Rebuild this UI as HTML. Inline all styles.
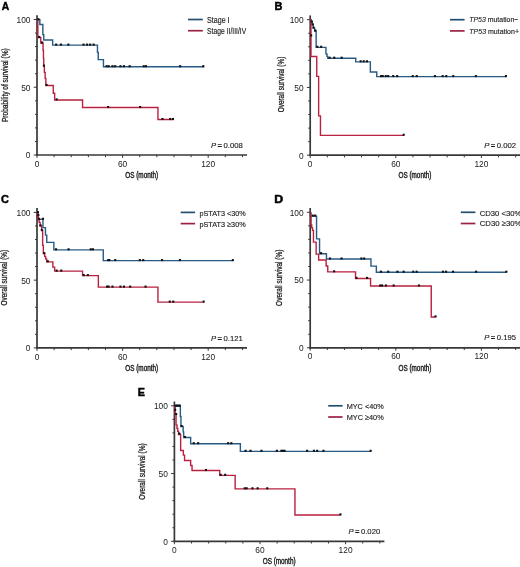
<!DOCTYPE html>
<html><head><meta charset="utf-8"><style>
html,body{margin:0;padding:0;background:#fff;}
svg{display:block;will-change:transform;}
text{font-family:"Liberation Sans",sans-serif;}
</style></head><body>
<svg width="520" height="567" viewBox="0 0 520 567">
<rect width="520" height="567" fill="#fff"/>
<line x1="37.0" y1="15.20" x2="37.0" y2="155.80" stroke="#383838" stroke-width="1.7"/>
<line x1="36.15" y1="155.0" x2="247.00" y2="155.0" stroke="#383838" stroke-width="1.7"/>
<line x1="33.70" y1="155.00" x2="37.0" y2="155.00" stroke="#383838" stroke-width="1"/>
<line x1="35.00" y1="141.45" x2="37.0" y2="141.45" stroke="#383838" stroke-width="1"/>
<line x1="35.00" y1="127.90" x2="37.0" y2="127.90" stroke="#383838" stroke-width="1"/>
<line x1="35.00" y1="114.35" x2="37.0" y2="114.35" stroke="#383838" stroke-width="1"/>
<line x1="35.00" y1="100.80" x2="37.0" y2="100.80" stroke="#383838" stroke-width="1"/>
<line x1="33.70" y1="87.25" x2="37.0" y2="87.25" stroke="#383838" stroke-width="1"/>
<line x1="35.00" y1="73.70" x2="37.0" y2="73.70" stroke="#383838" stroke-width="1"/>
<line x1="35.00" y1="60.15" x2="37.0" y2="60.15" stroke="#383838" stroke-width="1"/>
<line x1="35.00" y1="46.60" x2="37.0" y2="46.60" stroke="#383838" stroke-width="1"/>
<line x1="35.00" y1="33.05" x2="37.0" y2="33.05" stroke="#383838" stroke-width="1"/>
<line x1="33.70" y1="19.50" x2="37.0" y2="19.50" stroke="#383838" stroke-width="1"/>
<line x1="37.00" y1="155.0" x2="37.00" y2="157.90" stroke="#383838" stroke-width="1"/>
<line x1="54.12" y1="155.0" x2="54.12" y2="157.20" stroke="#383838" stroke-width="1"/>
<line x1="71.24" y1="155.0" x2="71.24" y2="157.20" stroke="#383838" stroke-width="1"/>
<line x1="88.36" y1="155.0" x2="88.36" y2="157.20" stroke="#383838" stroke-width="1"/>
<line x1="105.48" y1="155.0" x2="105.48" y2="157.20" stroke="#383838" stroke-width="1"/>
<line x1="122.60" y1="155.0" x2="122.60" y2="157.90" stroke="#383838" stroke-width="1"/>
<line x1="139.72" y1="155.0" x2="139.72" y2="157.20" stroke="#383838" stroke-width="1"/>
<line x1="156.84" y1="155.0" x2="156.84" y2="157.20" stroke="#383838" stroke-width="1"/>
<line x1="173.96" y1="155.0" x2="173.96" y2="157.20" stroke="#383838" stroke-width="1"/>
<line x1="191.08" y1="155.0" x2="191.08" y2="157.20" stroke="#383838" stroke-width="1"/>
<line x1="208.20" y1="155.0" x2="208.20" y2="157.90" stroke="#383838" stroke-width="1"/>
<line x1="225.32" y1="155.0" x2="225.32" y2="157.20" stroke="#383838" stroke-width="1"/>
<line x1="242.44" y1="155.0" x2="242.44" y2="157.20" stroke="#383838" stroke-width="1"/>
<text x="30.50" y="158.40" text-anchor="end" font-size="8.4" fill="#1a1a1a">0</text>
<text x="30.50" y="90.65" text-anchor="end" font-size="8.4" fill="#1a1a1a">50</text>
<text x="30.50" y="22.90" text-anchor="end" font-size="8.4" fill="#1a1a1a">100</text>
<text x="37.00" y="166.60" text-anchor="middle" font-size="8.4" fill="#1a1a1a">0</text>
<text x="122.60" y="166.60" text-anchor="middle" font-size="8.4" fill="#1a1a1a">60</text>
<text x="208.20" y="166.60" text-anchor="middle" font-size="8.4" fill="#1a1a1a">120</text>
<line x1="188.0" y1="19.50" x2="202.8" y2="19.50" stroke="#234f70" stroke-width="1.7"/>
<line x1="188.0" y1="30.70" x2="202.8" y2="30.70" stroke="#9c2243" stroke-width="1.7"/>
<g transform="translate(0.15,0.35)">
<path d="M37,19.4 H39.7 V24.2 H42.7 V34.3 H43.6 V39.6 H52.5 V44.8 H97.3 V52 H98.1 V59.3 H103.3 V66.4 H204" fill="none" stroke="#275a86" stroke-width="1.4"/>
<path d="M37,19.4 H37.7 V37.2 H40.6 V42.7 H42.9 V50 H43.3 V58 H43.6 V66 H44.2 V72 H45 V78 H45.7 V85.1 H53.1 V92.9 H54.5 V99.6 H82.4 V107.2 H157.8 V119.2 H173.5" fill="none" stroke="#ba2040" stroke-width="1.4"/>
<rect x="37.25" y="17.80" width="2.1" height="2.1" fill="#111"/><rect x="54.95" y="43.20" width="2.1" height="2.1" fill="#111"/><rect x="59.75" y="43.20" width="2.1" height="2.1" fill="#111"/><rect x="67.15" y="43.20" width="2.1" height="2.1" fill="#111"/><rect x="82.35" y="43.20" width="2.1" height="2.1" fill="#111"/><rect x="85.85" y="43.20" width="2.1" height="2.1" fill="#111"/><rect x="88.95" y="43.20" width="2.1" height="2.1" fill="#111"/><rect x="92.45" y="43.20" width="2.1" height="2.1" fill="#111"/><rect x="105.45" y="64.80" width="2.1" height="2.1" fill="#111"/><rect x="107.45" y="64.80" width="2.1" height="2.1" fill="#111"/><rect x="111.25" y="64.80" width="2.1" height="2.1" fill="#111"/><rect x="113.95" y="64.80" width="2.1" height="2.1" fill="#111"/><rect x="119.25" y="64.80" width="2.1" height="2.1" fill="#111"/><rect x="122.75" y="64.80" width="2.1" height="2.1" fill="#111"/><rect x="128.45" y="64.80" width="2.1" height="2.1" fill="#111"/><rect x="142.55" y="64.80" width="2.1" height="2.1" fill="#111"/><rect x="144.75" y="64.80" width="2.1" height="2.1" fill="#111"/><rect x="178.95" y="64.80" width="2.1" height="2.1" fill="#111"/><rect x="202.05" y="64.80" width="2.1" height="2.1" fill="#111"/>
<rect x="37.95" y="35.60" width="2.1" height="2.1" fill="#111"/><rect x="40.85" y="41.10" width="2.1" height="2.1" fill="#111"/><rect x="42.75" y="64.20" width="2.1" height="2.1" fill="#111"/><rect x="45.35" y="83.50" width="2.1" height="2.1" fill="#111"/><rect x="55.45" y="98.00" width="2.1" height="2.1" fill="#111"/><rect x="106.95" y="105.60" width="2.1" height="2.1" fill="#111"/><rect x="138.95" y="105.60" width="2.1" height="2.1" fill="#111"/><rect x="161.25" y="117.60" width="2.1" height="2.1" fill="#111"/><rect x="168.95" y="117.60" width="2.1" height="2.1" fill="#111"/><rect x="171.75" y="117.60" width="2.1" height="2.1" fill="#111"/>
</g>
<line x1="310.2" y1="15.40" x2="310.2" y2="156.00" stroke="#383838" stroke-width="1.7"/>
<line x1="309.35" y1="155.2" x2="520.20" y2="155.2" stroke="#383838" stroke-width="1.7"/>
<line x1="306.90" y1="155.20" x2="310.2" y2="155.20" stroke="#383838" stroke-width="1"/>
<line x1="308.20" y1="141.65" x2="310.2" y2="141.65" stroke="#383838" stroke-width="1"/>
<line x1="308.20" y1="128.10" x2="310.2" y2="128.10" stroke="#383838" stroke-width="1"/>
<line x1="308.20" y1="114.55" x2="310.2" y2="114.55" stroke="#383838" stroke-width="1"/>
<line x1="308.20" y1="101.00" x2="310.2" y2="101.00" stroke="#383838" stroke-width="1"/>
<line x1="306.90" y1="87.45" x2="310.2" y2="87.45" stroke="#383838" stroke-width="1"/>
<line x1="308.20" y1="73.90" x2="310.2" y2="73.90" stroke="#383838" stroke-width="1"/>
<line x1="308.20" y1="60.35" x2="310.2" y2="60.35" stroke="#383838" stroke-width="1"/>
<line x1="308.20" y1="46.80" x2="310.2" y2="46.80" stroke="#383838" stroke-width="1"/>
<line x1="308.20" y1="33.25" x2="310.2" y2="33.25" stroke="#383838" stroke-width="1"/>
<line x1="306.90" y1="19.70" x2="310.2" y2="19.70" stroke="#383838" stroke-width="1"/>
<line x1="310.20" y1="155.2" x2="310.20" y2="158.10" stroke="#383838" stroke-width="1"/>
<line x1="327.32" y1="155.2" x2="327.32" y2="157.40" stroke="#383838" stroke-width="1"/>
<line x1="344.44" y1="155.2" x2="344.44" y2="157.40" stroke="#383838" stroke-width="1"/>
<line x1="361.56" y1="155.2" x2="361.56" y2="157.40" stroke="#383838" stroke-width="1"/>
<line x1="378.68" y1="155.2" x2="378.68" y2="157.40" stroke="#383838" stroke-width="1"/>
<line x1="395.80" y1="155.2" x2="395.80" y2="158.10" stroke="#383838" stroke-width="1"/>
<line x1="412.92" y1="155.2" x2="412.92" y2="157.40" stroke="#383838" stroke-width="1"/>
<line x1="430.04" y1="155.2" x2="430.04" y2="157.40" stroke="#383838" stroke-width="1"/>
<line x1="447.16" y1="155.2" x2="447.16" y2="157.40" stroke="#383838" stroke-width="1"/>
<line x1="464.28" y1="155.2" x2="464.28" y2="157.40" stroke="#383838" stroke-width="1"/>
<line x1="481.40" y1="155.2" x2="481.40" y2="158.10" stroke="#383838" stroke-width="1"/>
<line x1="498.52" y1="155.2" x2="498.52" y2="157.40" stroke="#383838" stroke-width="1"/>
<line x1="515.64" y1="155.2" x2="515.64" y2="157.40" stroke="#383838" stroke-width="1"/>
<text x="303.70" y="158.60" text-anchor="end" font-size="8.4" fill="#1a1a1a">0</text>
<text x="303.70" y="90.85" text-anchor="end" font-size="8.4" fill="#1a1a1a">50</text>
<text x="303.70" y="23.10" text-anchor="end" font-size="8.4" fill="#1a1a1a">100</text>
<text x="310.20" y="166.80" text-anchor="middle" font-size="8.4" fill="#1a1a1a">0</text>
<text x="395.80" y="166.80" text-anchor="middle" font-size="8.4" fill="#1a1a1a">60</text>
<text x="481.40" y="166.80" text-anchor="middle" font-size="8.4" fill="#1a1a1a">120</text>
<line x1="450.0" y1="19.70" x2="464.6" y2="19.70" stroke="#234f70" stroke-width="1.7"/>
<line x1="450.0" y1="30.90" x2="464.6" y2="30.90" stroke="#9c2243" stroke-width="1.7"/>
<g transform="translate(0.15,0.35)">
<path d="M310.2,19.3 H311 V21 H312 V24 H313 V27.8 H314.5 V30.7 H316.0 V47 H325.8 V53.5 H326.8 V56 H327.6 V57.9 H355.6 V61.5 H370.2 V71.6 H376.6 V76.3 H506" fill="none" stroke="#275a86" stroke-width="1.4"/>
<path d="M310.2,19.3 H310.8 V56.2 H316.6 V76.0 H318.5 V115.5 H320.3 V135.0 H403.7" fill="none" stroke="#ba2040" stroke-width="1.4"/>
<rect x="310.55" y="20.20" width="2.1" height="2.1" fill="#111"/><rect x="311.55" y="23.00" width="2.1" height="2.1" fill="#111"/><rect x="312.45" y="26.20" width="2.1" height="2.1" fill="#111"/><rect x="314.15" y="29.10" width="2.1" height="2.1" fill="#111"/><rect x="316.15" y="45.40" width="2.1" height="2.1" fill="#111"/><rect x="319.95" y="45.40" width="2.1" height="2.1" fill="#111"/><rect x="328.35" y="56.30" width="2.1" height="2.1" fill="#111"/><rect x="333.05" y="56.30" width="2.1" height="2.1" fill="#111"/><rect x="340.45" y="56.30" width="2.1" height="2.1" fill="#111"/><rect x="359.45" y="59.90" width="2.1" height="2.1" fill="#111"/><rect x="362.55" y="59.90" width="2.1" height="2.1" fill="#111"/><rect x="365.75" y="59.90" width="2.1" height="2.1" fill="#111"/><rect x="379.85" y="74.70" width="2.1" height="2.1" fill="#111"/><rect x="381.55" y="74.70" width="2.1" height="2.1" fill="#111"/><rect x="384.55" y="74.70" width="2.1" height="2.1" fill="#111"/><rect x="386.95" y="74.70" width="2.1" height="2.1" fill="#111"/><rect x="392.05" y="74.70" width="2.1" height="2.1" fill="#111"/><rect x="395.95" y="74.70" width="2.1" height="2.1" fill="#111"/><rect x="411.55" y="74.70" width="2.1" height="2.1" fill="#111"/><rect x="415.55" y="74.70" width="2.1" height="2.1" fill="#111"/><rect x="433.75" y="74.70" width="2.1" height="2.1" fill="#111"/><rect x="441.45" y="74.70" width="2.1" height="2.1" fill="#111"/><rect x="445.05" y="74.70" width="2.1" height="2.1" fill="#111"/><rect x="452.05" y="74.70" width="2.1" height="2.1" fill="#111"/><rect x="474.65" y="74.70" width="2.1" height="2.1" fill="#111"/><rect x="504.75" y="74.70" width="2.1" height="2.1" fill="#111"/>
<rect x="309.95" y="34.00" width="2.1" height="2.1" fill="#111"/><rect x="402.45" y="133.40" width="2.1" height="2.1" fill="#111"/>
</g>
<line x1="37.0" y1="208.10" x2="37.0" y2="348.70" stroke="#383838" stroke-width="1.7"/>
<line x1="36.15" y1="347.9" x2="247.00" y2="347.9" stroke="#383838" stroke-width="1.7"/>
<line x1="33.70" y1="347.90" x2="37.0" y2="347.90" stroke="#383838" stroke-width="1"/>
<line x1="35.00" y1="334.35" x2="37.0" y2="334.35" stroke="#383838" stroke-width="1"/>
<line x1="35.00" y1="320.80" x2="37.0" y2="320.80" stroke="#383838" stroke-width="1"/>
<line x1="35.00" y1="307.25" x2="37.0" y2="307.25" stroke="#383838" stroke-width="1"/>
<line x1="35.00" y1="293.70" x2="37.0" y2="293.70" stroke="#383838" stroke-width="1"/>
<line x1="33.70" y1="280.15" x2="37.0" y2="280.15" stroke="#383838" stroke-width="1"/>
<line x1="35.00" y1="266.60" x2="37.0" y2="266.60" stroke="#383838" stroke-width="1"/>
<line x1="35.00" y1="253.05" x2="37.0" y2="253.05" stroke="#383838" stroke-width="1"/>
<line x1="35.00" y1="239.50" x2="37.0" y2="239.50" stroke="#383838" stroke-width="1"/>
<line x1="35.00" y1="225.95" x2="37.0" y2="225.95" stroke="#383838" stroke-width="1"/>
<line x1="33.70" y1="212.40" x2="37.0" y2="212.40" stroke="#383838" stroke-width="1"/>
<line x1="37.00" y1="347.9" x2="37.00" y2="350.80" stroke="#383838" stroke-width="1"/>
<line x1="54.12" y1="347.9" x2="54.12" y2="350.10" stroke="#383838" stroke-width="1"/>
<line x1="71.24" y1="347.9" x2="71.24" y2="350.10" stroke="#383838" stroke-width="1"/>
<line x1="88.36" y1="347.9" x2="88.36" y2="350.10" stroke="#383838" stroke-width="1"/>
<line x1="105.48" y1="347.9" x2="105.48" y2="350.10" stroke="#383838" stroke-width="1"/>
<line x1="122.60" y1="347.9" x2="122.60" y2="350.80" stroke="#383838" stroke-width="1"/>
<line x1="139.72" y1="347.9" x2="139.72" y2="350.10" stroke="#383838" stroke-width="1"/>
<line x1="156.84" y1="347.9" x2="156.84" y2="350.10" stroke="#383838" stroke-width="1"/>
<line x1="173.96" y1="347.9" x2="173.96" y2="350.10" stroke="#383838" stroke-width="1"/>
<line x1="191.08" y1="347.9" x2="191.08" y2="350.10" stroke="#383838" stroke-width="1"/>
<line x1="208.20" y1="347.9" x2="208.20" y2="350.80" stroke="#383838" stroke-width="1"/>
<line x1="225.32" y1="347.9" x2="225.32" y2="350.10" stroke="#383838" stroke-width="1"/>
<line x1="242.44" y1="347.9" x2="242.44" y2="350.10" stroke="#383838" stroke-width="1"/>
<text x="30.50" y="351.30" text-anchor="end" font-size="8.4" fill="#1a1a1a">0</text>
<text x="30.50" y="283.55" text-anchor="end" font-size="8.4" fill="#1a1a1a">50</text>
<text x="30.50" y="215.80" text-anchor="end" font-size="8.4" fill="#1a1a1a">100</text>
<text x="37.00" y="359.50" text-anchor="middle" font-size="8.4" fill="#1a1a1a">0</text>
<text x="122.60" y="359.50" text-anchor="middle" font-size="8.4" fill="#1a1a1a">60</text>
<text x="208.20" y="359.50" text-anchor="middle" font-size="8.4" fill="#1a1a1a">120</text>
<line x1="180.7" y1="212.40" x2="195.1" y2="212.40" stroke="#234f70" stroke-width="1.7"/>
<line x1="180.7" y1="223.60" x2="195.1" y2="223.60" stroke="#9c2243" stroke-width="1.7"/>
<g transform="translate(0.15,0.35)">
<path d="M37,212.4 H37.8 V219 H42.8 V227.3 H45.3 V234.8 H46.6 V242 H53.7 V249.5 H103.1 V260.3 H233" fill="none" stroke="#275a86" stroke-width="1.4"/>
<path d="M37,212.4 V216 H38 V219.4 H39 V222 H40 V225.7 H41.5 V230.2 H42.5 V245 H43.2 V253.3 H44.5 V256 H45.5 V258.5 H46.5 V261.5 H52.7 V266.8 H54.5 V270.8 H82.4 V275.3 H98.2 V286.8 H157.8 V301.8 H203.5" fill="none" stroke="#ba2040" stroke-width="1.4"/>
<rect x="36.75" y="210.80" width="2.1" height="2.1" fill="#111"/><rect x="37.95" y="217.40" width="2.1" height="2.1" fill="#111"/><rect x="41.75" y="217.40" width="2.1" height="2.1" fill="#111"/><rect x="54.85" y="247.90" width="2.1" height="2.1" fill="#111"/><rect x="67.35" y="247.90" width="2.1" height="2.1" fill="#111"/><rect x="89.55" y="247.90" width="2.1" height="2.1" fill="#111"/><rect x="91.75" y="247.90" width="2.1" height="2.1" fill="#111"/><rect x="106.95" y="258.70" width="2.1" height="2.1" fill="#111"/><rect x="108.15" y="258.70" width="2.1" height="2.1" fill="#111"/><rect x="114.05" y="258.70" width="2.1" height="2.1" fill="#111"/><rect x="138.65" y="258.70" width="2.1" height="2.1" fill="#111"/><rect x="142.05" y="258.70" width="2.1" height="2.1" fill="#111"/><rect x="160.85" y="258.70" width="2.1" height="2.1" fill="#111"/><rect x="178.75" y="258.70" width="2.1" height="2.1" fill="#111"/><rect x="231.65" y="258.70" width="2.1" height="2.1" fill="#111"/>
<rect x="37.15" y="213.70" width="2.1" height="2.1" fill="#111"/><rect x="39.25" y="223.90" width="2.1" height="2.1" fill="#111"/><rect x="40.65" y="228.60" width="2.1" height="2.1" fill="#111"/><rect x="43.05" y="251.70" width="2.1" height="2.1" fill="#111"/><rect x="46.55" y="259.90" width="2.1" height="2.1" fill="#111"/><rect x="55.45" y="269.20" width="2.1" height="2.1" fill="#111"/><rect x="60.05" y="269.20" width="2.1" height="2.1" fill="#111"/><rect x="82.55" y="273.70" width="2.1" height="2.1" fill="#111"/><rect x="86.65" y="273.70" width="2.1" height="2.1" fill="#111"/><rect x="105.85" y="285.20" width="2.1" height="2.1" fill="#111"/><rect x="107.45" y="285.20" width="2.1" height="2.1" fill="#111"/><rect x="111.25" y="285.20" width="2.1" height="2.1" fill="#111"/><rect x="119.25" y="285.20" width="2.1" height="2.1" fill="#111"/><rect x="122.75" y="285.20" width="2.1" height="2.1" fill="#111"/><rect x="128.95" y="285.20" width="2.1" height="2.1" fill="#111"/><rect x="144.35" y="285.20" width="2.1" height="2.1" fill="#111"/><rect x="168.55" y="300.20" width="2.1" height="2.1" fill="#111"/><rect x="172.05" y="300.20" width="2.1" height="2.1" fill="#111"/><rect x="202.45" y="300.20" width="2.1" height="2.1" fill="#111"/>
</g>
<line x1="310.2" y1="208.00" x2="310.2" y2="348.60" stroke="#383838" stroke-width="1.7"/>
<line x1="309.35" y1="347.8" x2="520.20" y2="347.8" stroke="#383838" stroke-width="1.7"/>
<line x1="306.90" y1="347.80" x2="310.2" y2="347.80" stroke="#383838" stroke-width="1"/>
<line x1="308.20" y1="334.25" x2="310.2" y2="334.25" stroke="#383838" stroke-width="1"/>
<line x1="308.20" y1="320.70" x2="310.2" y2="320.70" stroke="#383838" stroke-width="1"/>
<line x1="308.20" y1="307.15" x2="310.2" y2="307.15" stroke="#383838" stroke-width="1"/>
<line x1="308.20" y1="293.60" x2="310.2" y2="293.60" stroke="#383838" stroke-width="1"/>
<line x1="306.90" y1="280.05" x2="310.2" y2="280.05" stroke="#383838" stroke-width="1"/>
<line x1="308.20" y1="266.50" x2="310.2" y2="266.50" stroke="#383838" stroke-width="1"/>
<line x1="308.20" y1="252.95" x2="310.2" y2="252.95" stroke="#383838" stroke-width="1"/>
<line x1="308.20" y1="239.40" x2="310.2" y2="239.40" stroke="#383838" stroke-width="1"/>
<line x1="308.20" y1="225.85" x2="310.2" y2="225.85" stroke="#383838" stroke-width="1"/>
<line x1="306.90" y1="212.30" x2="310.2" y2="212.30" stroke="#383838" stroke-width="1"/>
<line x1="310.20" y1="347.8" x2="310.20" y2="350.70" stroke="#383838" stroke-width="1"/>
<line x1="327.32" y1="347.8" x2="327.32" y2="350.00" stroke="#383838" stroke-width="1"/>
<line x1="344.44" y1="347.8" x2="344.44" y2="350.00" stroke="#383838" stroke-width="1"/>
<line x1="361.56" y1="347.8" x2="361.56" y2="350.00" stroke="#383838" stroke-width="1"/>
<line x1="378.68" y1="347.8" x2="378.68" y2="350.00" stroke="#383838" stroke-width="1"/>
<line x1="395.80" y1="347.8" x2="395.80" y2="350.70" stroke="#383838" stroke-width="1"/>
<line x1="412.92" y1="347.8" x2="412.92" y2="350.00" stroke="#383838" stroke-width="1"/>
<line x1="430.04" y1="347.8" x2="430.04" y2="350.00" stroke="#383838" stroke-width="1"/>
<line x1="447.16" y1="347.8" x2="447.16" y2="350.00" stroke="#383838" stroke-width="1"/>
<line x1="464.28" y1="347.8" x2="464.28" y2="350.00" stroke="#383838" stroke-width="1"/>
<line x1="481.40" y1="347.8" x2="481.40" y2="350.70" stroke="#383838" stroke-width="1"/>
<line x1="498.52" y1="347.8" x2="498.52" y2="350.00" stroke="#383838" stroke-width="1"/>
<line x1="515.64" y1="347.8" x2="515.64" y2="350.00" stroke="#383838" stroke-width="1"/>
<text x="303.70" y="351.20" text-anchor="end" font-size="8.4" fill="#1a1a1a">0</text>
<text x="303.70" y="283.45" text-anchor="end" font-size="8.4" fill="#1a1a1a">50</text>
<text x="303.70" y="215.70" text-anchor="end" font-size="8.4" fill="#1a1a1a">100</text>
<text x="310.20" y="359.40" text-anchor="middle" font-size="8.4" fill="#1a1a1a">0</text>
<text x="395.80" y="359.40" text-anchor="middle" font-size="8.4" fill="#1a1a1a">60</text>
<text x="481.40" y="359.40" text-anchor="middle" font-size="8.4" fill="#1a1a1a">120</text>
<line x1="460.8" y1="212.30" x2="475.4" y2="212.30" stroke="#234f70" stroke-width="1.7"/>
<line x1="460.8" y1="223.50" x2="475.4" y2="223.50" stroke="#9c2243" stroke-width="1.7"/>
<g transform="translate(0.15,0.35)">
<path d="M310.2,212.5 V215.8 H316.4 V238.5 H319.4 V253.4 H326.3 V258.7 H370.8 V265.8 H376.2 V271.9 H506.2" fill="none" stroke="#275a86" stroke-width="1.4"/>
<path d="M310.2,212.5 H310.9 V224.5 H311.6 V227.5 H312.4 V230 H313.3 V241.8 H316 V253.8 H318.5 V259.7 H326 V265.6 H327.6 V271.5 H355.4 V278.1 H370.4 V285.7 H431.1 V316.6 H435.4" fill="none" stroke="#ba2040" stroke-width="1.4"/>
<rect x="311.65" y="214.20" width="2.1" height="2.1" fill="#111"/><rect x="313.95" y="214.20" width="2.1" height="2.1" fill="#111"/><rect x="319.85" y="251.80" width="2.1" height="2.1" fill="#111"/><rect x="328.75" y="257.10" width="2.1" height="2.1" fill="#111"/><rect x="340.35" y="257.10" width="2.1" height="2.1" fill="#111"/><rect x="360.15" y="257.10" width="2.1" height="2.1" fill="#111"/><rect x="362.95" y="257.10" width="2.1" height="2.1" fill="#111"/><rect x="379.75" y="270.30" width="2.1" height="2.1" fill="#111"/><rect x="387.05" y="270.30" width="2.1" height="2.1" fill="#111"/><rect x="396.25" y="270.30" width="2.1" height="2.1" fill="#111"/><rect x="402.45" y="270.30" width="2.1" height="2.1" fill="#111"/><rect x="412.05" y="270.30" width="2.1" height="2.1" fill="#111"/><rect x="415.45" y="270.30" width="2.1" height="2.1" fill="#111"/><rect x="441.75" y="270.30" width="2.1" height="2.1" fill="#111"/><rect x="444.85" y="270.30" width="2.1" height="2.1" fill="#111"/><rect x="451.85" y="270.30" width="2.1" height="2.1" fill="#111"/><rect x="474.95" y="270.30" width="2.1" height="2.1" fill="#111"/><rect x="505.15" y="270.30" width="2.1" height="2.1" fill="#111"/>
<rect x="332.95" y="269.90" width="2.1" height="2.1" fill="#111"/><rect x="355.25" y="276.50" width="2.1" height="2.1" fill="#111"/><rect x="365.85" y="276.50" width="2.1" height="2.1" fill="#111"/><rect x="378.95" y="284.10" width="2.1" height="2.1" fill="#111"/><rect x="380.85" y="284.10" width="2.1" height="2.1" fill="#111"/><rect x="384.75" y="284.10" width="2.1" height="2.1" fill="#111"/><rect x="392.45" y="284.10" width="2.1" height="2.1" fill="#111"/><rect x="417.75" y="284.10" width="2.1" height="2.1" fill="#111"/><rect x="434.35" y="315.00" width="2.1" height="2.1" fill="#111"/>
</g>
<line x1="174.4" y1="401.50" x2="174.4" y2="542.10" stroke="#383838" stroke-width="1.7"/>
<line x1="173.55" y1="541.3" x2="384.40" y2="541.3" stroke="#383838" stroke-width="1.7"/>
<line x1="171.10" y1="541.30" x2="174.4" y2="541.30" stroke="#383838" stroke-width="1"/>
<line x1="172.40" y1="527.75" x2="174.4" y2="527.75" stroke="#383838" stroke-width="1"/>
<line x1="172.40" y1="514.20" x2="174.4" y2="514.20" stroke="#383838" stroke-width="1"/>
<line x1="172.40" y1="500.65" x2="174.4" y2="500.65" stroke="#383838" stroke-width="1"/>
<line x1="172.40" y1="487.10" x2="174.4" y2="487.10" stroke="#383838" stroke-width="1"/>
<line x1="171.10" y1="473.55" x2="174.4" y2="473.55" stroke="#383838" stroke-width="1"/>
<line x1="172.40" y1="460.00" x2="174.4" y2="460.00" stroke="#383838" stroke-width="1"/>
<line x1="172.40" y1="446.45" x2="174.4" y2="446.45" stroke="#383838" stroke-width="1"/>
<line x1="172.40" y1="432.90" x2="174.4" y2="432.90" stroke="#383838" stroke-width="1"/>
<line x1="172.40" y1="419.35" x2="174.4" y2="419.35" stroke="#383838" stroke-width="1"/>
<line x1="171.10" y1="405.80" x2="174.4" y2="405.80" stroke="#383838" stroke-width="1"/>
<line x1="174.40" y1="541.3" x2="174.40" y2="544.20" stroke="#383838" stroke-width="1"/>
<line x1="191.52" y1="541.3" x2="191.52" y2="543.50" stroke="#383838" stroke-width="1"/>
<line x1="208.64" y1="541.3" x2="208.64" y2="543.50" stroke="#383838" stroke-width="1"/>
<line x1="225.76" y1="541.3" x2="225.76" y2="543.50" stroke="#383838" stroke-width="1"/>
<line x1="242.88" y1="541.3" x2="242.88" y2="543.50" stroke="#383838" stroke-width="1"/>
<line x1="260.00" y1="541.3" x2="260.00" y2="544.20" stroke="#383838" stroke-width="1"/>
<line x1="277.12" y1="541.3" x2="277.12" y2="543.50" stroke="#383838" stroke-width="1"/>
<line x1="294.24" y1="541.3" x2="294.24" y2="543.50" stroke="#383838" stroke-width="1"/>
<line x1="311.36" y1="541.3" x2="311.36" y2="543.50" stroke="#383838" stroke-width="1"/>
<line x1="328.48" y1="541.3" x2="328.48" y2="543.50" stroke="#383838" stroke-width="1"/>
<line x1="345.60" y1="541.3" x2="345.60" y2="544.20" stroke="#383838" stroke-width="1"/>
<line x1="362.72" y1="541.3" x2="362.72" y2="543.50" stroke="#383838" stroke-width="1"/>
<line x1="379.84" y1="541.3" x2="379.84" y2="543.50" stroke="#383838" stroke-width="1"/>
<text x="167.90" y="544.70" text-anchor="end" font-size="8.4" fill="#1a1a1a">0</text>
<text x="167.90" y="476.95" text-anchor="end" font-size="8.4" fill="#1a1a1a">50</text>
<text x="167.90" y="409.20" text-anchor="end" font-size="8.4" fill="#1a1a1a">100</text>
<text x="174.40" y="552.90" text-anchor="middle" font-size="8.4" fill="#1a1a1a">0</text>
<text x="260.00" y="552.90" text-anchor="middle" font-size="8.4" fill="#1a1a1a">60</text>
<text x="345.60" y="552.90" text-anchor="middle" font-size="8.4" fill="#1a1a1a">120</text>
<line x1="328.2" y1="405.80" x2="342.6" y2="405.80" stroke="#234f70" stroke-width="1.7"/>
<line x1="328.2" y1="417.00" x2="342.6" y2="417.00" stroke="#9c2243" stroke-width="1.7"/>
<g transform="translate(0.15,0.35)">
<path d="M174.4,405.8 H180.2 V416.2 H180.8 V426.2 H183 V431.5 H183.5 V437.2 H190.5 V443.4 H240.2 V451 H370.5" fill="none" stroke="#275a86" stroke-width="1.4"/>
<path d="M174.4,405.8 H175 V414 H175.9 V424.5 H176.8 V428 H177.6 V431 H178.4 V434.2 H180.5 V450.2 H183.2 V454.8 H184.4 V460.2 H190.5 V465.2 H191.9 V470.2 H219.6 V475 H235 V488.5 H294.8 V514.6 H340.3" fill="none" stroke="#ba2040" stroke-width="1.4"/>
<rect x="174.35" y="404.20" width="2.1" height="2.1" fill="#111"/><rect x="175.85" y="404.20" width="2.1" height="2.1" fill="#111"/><rect x="177.35" y="404.20" width="2.1" height="2.1" fill="#111"/><rect x="178.65" y="404.20" width="2.1" height="2.1" fill="#111"/><rect x="180.35" y="424.60" width="2.1" height="2.1" fill="#111"/><rect x="183.75" y="435.60" width="2.1" height="2.1" fill="#111"/><rect x="192.55" y="441.80" width="2.1" height="2.1" fill="#111"/><rect x="196.95" y="441.80" width="2.1" height="2.1" fill="#111"/><rect x="226.95" y="441.80" width="2.1" height="2.1" fill="#111"/><rect x="230.15" y="441.80" width="2.1" height="2.1" fill="#111"/><rect x="244.35" y="449.40" width="2.1" height="2.1" fill="#111"/><rect x="249.35" y="449.40" width="2.1" height="2.1" fill="#111"/><rect x="260.25" y="449.40" width="2.1" height="2.1" fill="#111"/><rect x="275.65" y="449.40" width="2.1" height="2.1" fill="#111"/><rect x="280.15" y="449.40" width="2.1" height="2.1" fill="#111"/><rect x="281.75" y="449.40" width="2.1" height="2.1" fill="#111"/><rect x="283.35" y="449.40" width="2.1" height="2.1" fill="#111"/><rect x="305.95" y="449.40" width="2.1" height="2.1" fill="#111"/><rect x="312.75" y="449.40" width="2.1" height="2.1" fill="#111"/><rect x="315.95" y="449.40" width="2.1" height="2.1" fill="#111"/><rect x="322.25" y="449.40" width="2.1" height="2.1" fill="#111"/><rect x="369.45" y="449.40" width="2.1" height="2.1" fill="#111"/>
<rect x="173.95" y="408.40" width="2.1" height="2.1" fill="#111"/><rect x="174.95" y="412.60" width="2.1" height="2.1" fill="#111"/><rect x="178.15" y="432.20" width="2.1" height="2.1" fill="#111"/><rect x="204.75" y="468.60" width="2.1" height="2.1" fill="#111"/><rect x="219.45" y="473.40" width="2.1" height="2.1" fill="#111"/><rect x="223.95" y="473.40" width="2.1" height="2.1" fill="#111"/><rect x="243.55" y="486.90" width="2.1" height="2.1" fill="#111"/><rect x="245.45" y="486.90" width="2.1" height="2.1" fill="#111"/><rect x="251.25" y="486.90" width="2.1" height="2.1" fill="#111"/><rect x="256.45" y="486.90" width="2.1" height="2.1" fill="#111"/><rect x="266.05" y="486.90" width="2.1" height="2.1" fill="#111"/><rect x="339.25" y="513.00" width="2.1" height="2.1" fill="#111"/>
</g>
<text transform="translate(1.74,9.50) scale(1.0285,1)" font-size="10" fill="#000" stroke="#000" stroke-width="0.45"><tspan font-weight="bold" font-style="normal">A</tspan></text>
<text transform="translate(274.57,9.70) scale(1.0986,1)" font-size="10" fill="#000" stroke="#000" stroke-width="0.45"><tspan font-weight="bold" font-style="normal">B</tspan></text>
<text transform="translate(1.10,203.10) scale(1.0936,1)" font-size="10" fill="#000" stroke="#000" stroke-width="0.45"><tspan font-weight="bold" font-style="normal">C</tspan></text>
<text transform="translate(274.23,202.90) scale(1.2311,1)" font-size="10" fill="#000" stroke="#000" stroke-width="0.45"><tspan font-weight="bold" font-style="normal">D</tspan></text>
<text transform="translate(137.68,396.30) scale(1.0784,1)" font-size="10" fill="#000" stroke="#000" stroke-width="0.45"><tspan font-weight="bold" font-style="normal">E</tspan></text>
<text transform="translate(7.80,122.04) rotate(-90) scale(0.7803,1)" font-size="8.4" fill="#1a1a1a" stroke="#1a1a1a" stroke-width="0.28">Probability of survival (%)</text>
<text transform="translate(283.70,112.30) rotate(-90) scale(0.7636,1)" font-size="8.4" fill="#1a1a1a" stroke="#1a1a1a" stroke-width="0.28">Overall survival (%)</text>
<text transform="translate(7.30,305.50) rotate(-90) scale(0.7650,1)" font-size="8.4" fill="#1a1a1a" stroke="#1a1a1a" stroke-width="0.28">Overall survival (%)</text>
<text transform="translate(282.00,305.91) rotate(-90) scale(0.7748,1)" font-size="8.4" fill="#1a1a1a" stroke="#1a1a1a" stroke-width="0.28">Overall survival (%)</text>
<text transform="translate(145.30,499.71) rotate(-90) scale(0.7748,1)" font-size="8.4" fill="#1a1a1a" stroke="#1a1a1a" stroke-width="0.28">Overall survival (%)</text>
<text transform="translate(125.30,177.70) scale(0.7578,1)" font-size="8.4" fill="#1a1a1a" stroke="#1a1a1a" stroke-width="0.4">OS (month)</text>
<text transform="translate(211.06,147.60) scale(1.0421,1)" font-size="7.4" fill="#1a1a1a" stroke="#1a1a1a" stroke-width="0.12"><tspan font-weight="normal" font-style="italic">P</tspan> <tspan font-weight="bold" font-style="normal">=</tspan> 0.008</text>
<text transform="translate(398.50,177.90) scale(0.7578,1)" font-size="8.4" fill="#1a1a1a" stroke="#1a1a1a" stroke-width="0.4">OS (month)</text>
<text transform="translate(484.26,147.80) scale(1.0439,1)" font-size="7.4" fill="#1a1a1a" stroke="#1a1a1a" stroke-width="0.12"><tspan font-weight="normal" font-style="italic">P</tspan> <tspan font-weight="bold" font-style="normal">=</tspan> 0.002</text>
<text transform="translate(125.30,370.60) scale(0.7578,1)" font-size="8.4" fill="#1a1a1a" stroke="#1a1a1a" stroke-width="0.4">OS (month)</text>
<text transform="translate(211.06,340.50) scale(1.0435,1)" font-size="7.4" fill="#1a1a1a" stroke="#1a1a1a" stroke-width="0.12"><tspan font-weight="normal" font-style="italic">P</tspan> <tspan font-weight="bold" font-style="normal">=</tspan> 0.121</text>
<text transform="translate(398.50,370.50) scale(0.7578,1)" font-size="8.4" fill="#1a1a1a" stroke="#1a1a1a" stroke-width="0.4">OS (month)</text>
<text transform="translate(484.26,340.40) scale(1.0417,1)" font-size="7.4" fill="#1a1a1a" stroke="#1a1a1a" stroke-width="0.12"><tspan font-weight="normal" font-style="italic">P</tspan> <tspan font-weight="bold" font-style="normal">=</tspan> 0.195</text>
<text transform="translate(262.70,564.00) scale(0.7578,1)" font-size="8.4" fill="#1a1a1a" stroke="#1a1a1a" stroke-width="0.4">OS (month)</text>
<text transform="translate(348.46,533.90) scale(1.0410,1)" font-size="7.4" fill="#1a1a1a" stroke="#1a1a1a" stroke-width="0.12"><tspan font-weight="normal" font-style="italic">P</tspan> <tspan font-weight="bold" font-style="normal">=</tspan> 0.020</text>
<text transform="translate(207.08,22.80) scale(0.8344,1)" font-size="8.5" fill="#1a1a1a" stroke="#1a1a1a" stroke-width="0.14">Stage I</text>
<text transform="translate(207.09,33.70) scale(0.7965,1)" font-size="8.5" fill="#1a1a1a" stroke="#1a1a1a" stroke-width="0.14">Stage II/III/IV</text>
<text transform="translate(469.28,22.40) scale(0.8671,1)" font-size="8.0" fill="#1a1a1a" stroke="#1a1a1a" stroke-width="0.14"><tspan font-weight="normal" font-style="italic">TP53</tspan> mutation−</text>
<text transform="translate(469.27,33.70) scale(0.8779,1)" font-size="8.0" fill="#1a1a1a" stroke="#1a1a1a" stroke-width="0.14"><tspan font-weight="normal" font-style="italic">TP53</tspan> mutation+</text>
<text transform="translate(199.43,216.40) scale(0.9077,1)" font-size="8.0" fill="#1a1a1a" stroke="#1a1a1a" stroke-width="0.14">pSTAT3 &lt;30%</text>
<text transform="translate(199.43,227.00) scale(0.9127,1)" font-size="8.0" fill="#1a1a1a" stroke="#1a1a1a" stroke-width="0.14">pSTAT3 ≥30%</text>
<text transform="translate(479.71,215.90) scale(0.9633,1)" font-size="8.0" fill="#1a1a1a" stroke="#1a1a1a" stroke-width="0.14">CD30 &lt;30%</text>
<text transform="translate(479.71,226.20) scale(0.9696,1)" font-size="8.0" fill="#1a1a1a" stroke="#1a1a1a" stroke-width="0.14">CD30 ≥30%</text>
<text transform="translate(346.70,409.10) scale(0.9109,1)" font-size="8.0" fill="#1a1a1a" stroke="#1a1a1a" stroke-width="0.14">MYC &lt;40%</text>
<text transform="translate(346.70,420.10) scale(0.9174,1)" font-size="8.0" fill="#1a1a1a" stroke="#1a1a1a" stroke-width="0.14">MYC ≥40%</text>
</svg>
</body></html>
